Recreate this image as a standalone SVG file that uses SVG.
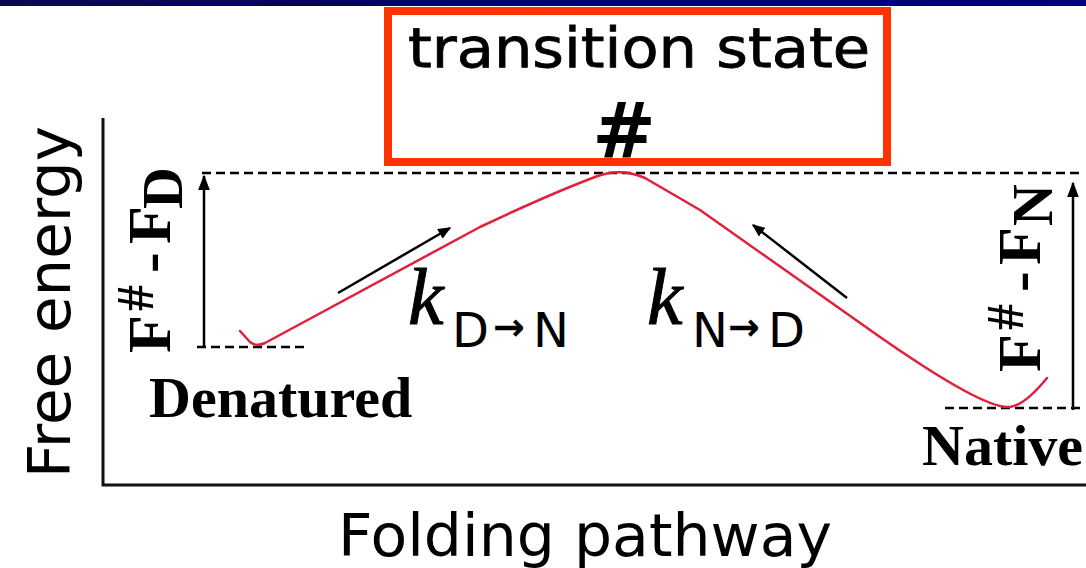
<svg xmlns="http://www.w3.org/2000/svg" width="1086" height="568" viewBox="0 0 1086 568">
<defs>
<linearGradient id="bar" x1="0" y1="0" x2="1" y2="0">
<stop offset="0" stop-color="#0a0a4a"/>
<stop offset="0.5" stop-color="#000070"/>
<stop offset="1" stop-color="#000080"/>
</linearGradient>
<marker id="ah" viewBox="0 0 10 10" refX="9" refY="5" markerWidth="13" markerHeight="11" markerUnits="userSpaceOnUse" orient="auto" preserveAspectRatio="none">
<path d="M0,0 L10,5 L0,10 Z" fill="#000"/>
</marker>
<marker id="ahBig" viewBox="0 0 10 10" refX="9" refY="5" markerWidth="16" markerHeight="12" markerUnits="userSpaceOnUse" orient="auto" preserveAspectRatio="none">
<path d="M0,0 L10,5 L0,10 Z" fill="#000"/>
</marker>
</defs>
<style>
.sans{font-family:"DejaVu Sans","Liberation Sans",sans-serif;fill:#000}
.serif{font-family:"Liberation Serif","DejaVu Serif",serif;font-weight:bold;fill:#000}
.kk{font-family:"Liberation Serif","DejaVu Serif",serif;font-style:italic;font-size:80px;fill:#000;stroke:#000;stroke-width:1}
.sub{font-family:"DejaVu Sans","Liberation Sans",sans-serif;font-size:48px;fill:#000}
.arr{font-family:"DejaVu Sans",sans-serif;font-weight:bold;font-size:38px;fill:#000}
.dash{stroke:#000;stroke-width:2.5;stroke-dasharray:9 5;fill:none}
.axis{stroke:#111;stroke-width:3;fill:none}
.arrow{stroke:#000;stroke-width:2.5;fill:none}
.curve{stroke:#e0203c;stroke-width:2.5;fill:none;stroke-linejoin:round;stroke-linecap:round}
</style>
<rect width="1086" height="568" fill="#fff"/>
<rect x="0" y="0" width="1086" height="6" fill="url(#bar)"/>

<g id="axes">
<path class="axis" d="M103,118 L103,485 L1086,485"/>
<text class="sans" font-size="58" transform="translate(70,478) rotate(-90)" textLength="352" lengthAdjust="spacingAndGlyphs">Free energy</text>
<text class="sans" font-size="58" x="338" y="556" textLength="494" lengthAdjust="spacingAndGlyphs">Folding pathway</text>
</g>

<g id="transition-state">
<rect x="388" y="11" width="499" height="151" fill="none" stroke="#ff3300" stroke-width="8"/>
<text class="sans" font-size="55" x="408" y="67" textLength="462" lengthAdjust="spacingAndGlyphs" stroke="#000" stroke-width="0.8">transition state</text>
<text class="sans" font-size="76" font-weight="bold" x="624" y="157" text-anchor="middle">#</text>
</g>

<g id="connectors">
<path class="dash" d="M202,173 L1080,173"/>
<path class="dash" d="M197,347 L307,347"/>
<path class="dash" d="M945,408 L1080,408"/>
<path class="arrow" d="M204,347 L204,176" marker-end="url(#ahBig)"/>
<path class="arrow" d="M1073,410 L1073,183" marker-end="url(#ahBig)"/>
<path class="curve" d="M240,331 L250,342 Q256,347 265,343 L480,227 Q550,194 595,177 Q620,167 645,178 L700,210 L880,337 Q985,410 1010,407 Q1025,405 1047,378"/>
<path class="arrow" d="M338,293 L450,228" marker-end="url(#ah)"/>
<path class="arrow" d="M847,298 L753,225" marker-end="url(#ah)"/>
</g>

<g id="denatured">
<text class="serif" font-size="58" x="149" y="417">Denatured</text>
<text class="serif" font-size="62" transform="translate(170,353) rotate(-90)"><tspan x="0" y="0">F</tspan><tspan x="42" y="-17" font-size="52">#</tspan><tspan x="80" y="0">-</tspan><tspan x="109" y="0">F</tspan><tspan x="144" y="12" font-size="58">D</tspan></text>
</g>

<g id="native">
<text class="serif" font-size="58" x="922" y="465">Native</text>
<text class="serif" font-size="62" transform="translate(1040,372) rotate(-90)"><tspan x="0" y="0">F</tspan><tspan x="42" y="-17" font-size="52">#</tspan><tspan x="80" y="0">-</tspan><tspan x="107" y="0">F</tspan><tspan x="146" y="12" font-size="58">N</tspan></text>
</g>

<g id="rate-dn">
<text class="kk" x="408" y="324">k</text>
<text class="sub" x="452" y="347">D</text>
<text class="arr" x="493" y="340">→</text>
<text class="sub" x="533" y="347">N</text>
</g>

<g id="rate-nd">
<text class="kk" x="647" y="324">k</text>
<text class="sub" x="692" y="347">N</text>
<text class="arr" x="728" y="340">→</text>
<text class="sub" x="768" y="347">D</text>
</g>
</svg>
